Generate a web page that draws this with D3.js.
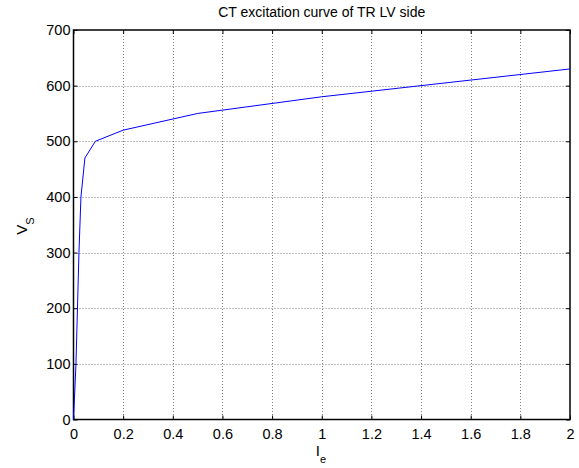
<!DOCTYPE html>
<html>
<head>
<meta charset="utf-8">
<script src="https://cdn.jsdelivr.net/npm/d3@7"></script>
<style>
  html, body { margin: 0; padding: 0; background: #fff; }
  svg { display: block; font-family: "Liberation Sans", Arial, sans-serif; }
</style>
</head>
<body>
<svg id="chart" width="579" height="468"></svg>
<script>
// Excitation current (A) and secondary voltage (V)
const currentIe = [0, 0.01, 0.022, 0.03, 0.046, 0.088, 0.2, 0.5, 1.0, 2.0];
const voltageVs = [0, 100, 300, 400, 470, 500, 520, 550, 580, 630];
const xTicks = [0, 0.2, 0.4, 0.6, 0.8, 1, 1.2, 1.4, 1.6, 1.8, 2];
const yTicks = [0, 100, 200, 300, 400, 500, 600, 700];
const titleText = "CT excitation curve of TR LV side";

const svg = d3.select("#chart");
const plotL = 73.5, plotR = 570, plotT = 30, plotB = 419.5;

const x = d3.scaleLinear().domain([0, 2]).range([plotL, plotR]);
const y = d3.scaleLinear().domain([0, 700]).range([plotB, plotT]);

// dotted grid
const grid = svg.append("g")
  .attr("stroke", "#000").attr("stroke-opacity", 0.5)
  .attr("stroke-dasharray", "1,2").attr("stroke-width", 1);
grid.selectAll("line.vx").data(xTicks.slice(1, -1)).join("line")
  .attr("x1", d => Math.round(x(d)) + 0.5).attr("x2", d => Math.round(x(d)) + 0.5)
  .attr("y1", plotT).attr("y2", plotB);
grid.selectAll("line.hy").data(yTicks.slice(1, -1)).join("line")
  .attr("y1", d => Math.round(y(d)) + 0.5).attr("y2", d => Math.round(y(d)) + 0.5)
  .attr("x1", plotL).attr("x2", plotR);

// axes with inward ticks on all four sides
const fmt = d3.format("~g");
const axB = svg.append("g").attr("transform", `translate(0,${plotB})`)
  .call(d3.axisBottom(x).tickValues(xTicks).tickFormat(fmt).tickSize(-4).tickPadding(9));
const axT = svg.append("g").attr("transform", `translate(0,${plotT})`)
  .call(d3.axisTop(x).tickValues(xTicks).tickFormat("").tickSize(-4));
const axL = svg.append("g").attr("transform", `translate(${plotL},0)`)
  .call(d3.axisLeft(y).tickValues(yTicks).tickFormat(fmt).tickSize(-4).tickPadding(4));
const axR = svg.append("g").attr("transform", `translate(${plotR},0)`)
  .call(d3.axisRight(y).tickValues(yTicks).tickFormat("").tickSize(-4));

[axB, axT, axL, axR].forEach(a => {
  a.select(".domain").remove();
  a.selectAll(".tick line").attr("stroke", "#000");
  a.selectAll("text").attr("font-size", 14.5).attr("fill", "#000")
    .attr("font-family", "'Liberation Sans', Arial, sans-serif");
});
axL.selectAll(".tick text").attr("x", -3);

// box
svg.append("rect").attr("x", plotL).attr("y", plotT)
  .attr("width", plotR - plotL).attr("height", plotB - plotT)
  .attr("fill", "none").attr("stroke", "#000").attr("stroke-width", 1.5);

// curve
const line = d3.line().x((d, i) => x(currentIe[i])).y(d => y(d));
svg.append("path").datum(voltageVs)
  .attr("d", line).attr("fill", "none")
  .attr("stroke", "#0000ff").attr("stroke-width", 1);

// title
svg.append("text").attr("x", (plotL + plotR) / 2).attr("y", 17)
  .attr("text-anchor", "middle").attr("font-size", 14).text(titleText);

// x label
const xl = svg.append("text").attr("x", 321).attr("y", 456)
  .attr("text-anchor", "middle").attr("font-size", 15);
xl.append("tspan").text("I");
xl.append("tspan").attr("dy", 7).attr("font-size", 11).text("e");

// y label
const yl = svg.append("text")
  .attr("transform", `translate(27,226) rotate(-90)`)
  .attr("text-anchor", "middle").attr("font-size", 15);
yl.append("tspan").text("V");
yl.append("tspan").attr("dy", 6.5).attr("font-size", 11).text("S");
</script>
</body>
</html>
